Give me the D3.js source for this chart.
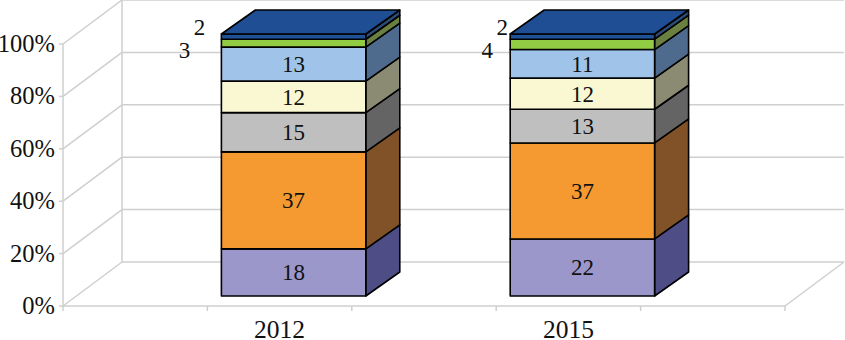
<!DOCTYPE html>
<html>
<head>
<meta charset="utf-8">
<script src="https://cdn.jsdelivr.net/npm/d3@7"></script>
<style>
  html, body { margin: 0; padding: 0; background: #fff; }
  svg { display: block; }
</style>
</head>
<body>
<script>
// 100% stacked 3D columns, two years, seven shares each (bottom to top)
const categories = ["2012", "2015"];
const seriesNames = ["s1", "s2", "s3", "s4", "s5", "s6", "s7"];
const values2012 = [18, 37, 15, 12, 13, 3, 2];
const values2015 = [22, 37, 13, 12, 11, 4, 2];
const yTicks = [0, 20, 40, 60, 80, 100];
const frontColors = ["#9b97cb", "#f49a30", "#bfbfbf", "#f9f8d2", "#a0c4e9", "#92cb44", "#1f5197"];
const sideColors = ["#4e4d85", "#815227", "#646464", "#8b8a72", "#4e6a8c", "#6a8040", "#2c4b78"];
const topColor = "#1f4e95";

const W = 845, H = 340;
const FONT = "Liberation Serif";
const values = { "2012": values2012, "2015": values2015 };

// front plane of the plot box, and the oblique offsets used for the 3d look
const x = d3.scaleBand().domain(categories).range([63, 785]).paddingInner(0.5).paddingOuter(0.5);
const y = d3.scaleLinear().domain([0, 100]).range([306, 44]);
const wall = { dx: 59, dy: -44 };   // front -> back wall
const barOff = { dx: 14, dy: -10 }; // front -> bar front face
const barDepth = { dx: 34, dy: -24 };

const svg = d3.select("body").append("svg").attr("width", W).attr("height", H);
const grid = svg.append("g").attr("stroke", "#cfcfcf").attr("stroke-width", 1.5).attr("fill", "none");
const line = (x1, y1, x2, y2) => grid.append("line").attr("x1", x1).attr("y1", y1).attr("x2", x2).attr("y2", y2);

const [x0, x1] = x.range();
// left wall diagonals + back wall gridlines
yTicks.forEach((t) => {
  line(x0, y(t), x0 + wall.dx, y(t) + wall.dy);
  line(x0 + wall.dx, y(t) + wall.dy, x1 + wall.dx, y(t) + wall.dy);
  line(x0 - 4, y(t), x0, y(t));
});
line(x0 + wall.dx, y(0) + wall.dy, x0 + wall.dx, y(100) + wall.dy);
line(x0, y(0), x0, y(100));
// floor
line(x0, y(0), x1, y(0));
line(x1, y(0), x1 + wall.dx, y(0) + wall.dy);
const xTickPos = [x0, ...categories.flatMap((c) => [x(c), x(c) + x.bandwidth()]), x1];
xTickPos.forEach((p) => line(p, y(0), p, y(0) + 5));

const txt = (sel, size) => sel.attr("font-family", FONT).style("font-family", FONT)
  .attr("font-size", size).attr("fill", "#111");

// y axis labels
txt(svg.append("g").selectAll("text").data(yTicks).join("text"), 24.5)
  .attr("x", 55).attr("y", (t) => y(t) + 8)
  .attr("text-anchor", "end")
  .text((t) => t + "%");

// category labels
txt(svg.append("g").selectAll("text").data(categories).join("text"), 25.5)
  .attr("x", (c) => x(c) + x.bandwidth() / 2).attr("y", 338)
  .attr("text-anchor", "middle")
  .text((c) => c);

// bars
const poly = (pts) => pts.map((p) => p.join(",")).join(" ");
categories.forEach((cat) => {
  const vals = values[cat];
  const total = d3.sum(vals);
  const stack = d3.stack().keys(seriesNames)
    .value((d, k) => d[k] / total * 100)([Object.fromEntries(seriesNames.map((k, i) => [k, vals[i]]))]);
  const xl = x(cat) + barOff.dx, xr = xl + x.bandwidth();
  const yy = (v) => y(v) + barOff.dy;
  const g = svg.append("g").attr("stroke", "#000").attr("stroke-width", 1.6).attr("stroke-linejoin", "round");
  stack.forEach((s, i) => {
    const [a, b] = s[0];
    g.append("polygon").attr("fill", sideColors[i])
      .attr("points", poly([[xr, yy(a)], [xr + barDepth.dx, yy(a) + barDepth.dy],
        [xr + barDepth.dx, yy(b) + barDepth.dy], [xr, yy(b)]]));
  });
  stack.forEach((s, i) => {
    const [a, b] = s[0];
    g.append("rect").attr("fill", frontColors[i])
      .attr("x", xl).attr("y", yy(b)).attr("width", xr - xl).attr("height", yy(a) - yy(b));
  });
  const yt = yy(100);
  g.append("polygon").attr("fill", topColor)
    .attr("points", poly([[xl, yt], [xl + barDepth.dx, yt + barDepth.dy], [xr + barDepth.dx, yt + barDepth.dy], [xr, yt]]));

  // value labels: big segments inside, the two thin top ones to the left
  const lab = svg.append("g").attr("text-anchor", "middle");
  const addLabel = (lx, ly, t) => txt(lab.append("text"), 23).attr("x", lx).attr("y", ly).text(t);
  stack.forEach((s, i) => {
    const [a, b] = s[0];
    if (i < 5) addLabel((xl + xr) / 2, (yy(a) + yy(b)) / 2 + 8, vals[i]);
  });
  const outside = cat === "2012" ? [-37, -22] : [-23, -8];
  addLabel(xl + outside[0], yy(stack[5][0][1]) + 19, vals[5]);
  addLabel(xl + outside[1], yy(stack[6][0][1]) + 1, vals[6]);
});
</script>
</body>
</html>
